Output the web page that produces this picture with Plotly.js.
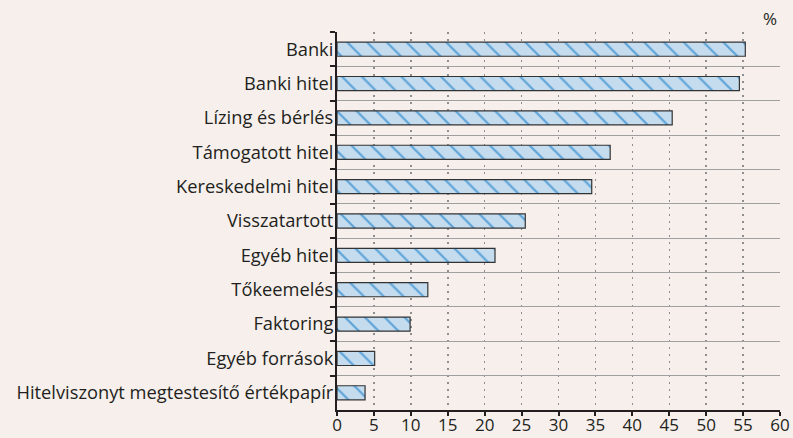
<!DOCTYPE html>
<html>
<head>
<meta charset="utf-8">
<script src="https://cdn.plot.ly/plotly-3.0.1.min.js"></script>
<style>html,body{margin:0;padding:0;background:#f6efec;}</style>
</head>
<body>
<div id="chart" style="width:793px;height:438px;"></div>
<script>
const categories = ["Banki","Banki hitel","Lízing és bérlés","Támogatott hitel","Kereskedelmi hitel","Visszatartott","Egyéb hitel","Tőkeemelés","Faktoring","Egyéb források","Hitelviszonyt megtestesítő értékpapír"];
const values = [55.3, 54.5, 45.4, 37.0, 34.5, 25.5, 21.4, 12.3, 9.9, 5.1, 3.8];
const xTicks = [0,5,10,15,20,25,30,35,40,45,50,55,60];
const unitLabel = "%";

const font = "'Open Sans', 'Noto Sans', sans-serif";
const trace = {
  type: "bar",
  orientation: "h",
  x: values,
  y: categories,
  width: 0.41,
  marker: {
    color: "#c5dcef",
    line: {color: "#333333", width: 1.2},
    pattern: {shape: "\\", fgcolor: "#5ea4d8", bgcolor: "#c5dcef", size: 14, solidity: 0.16}
  },
  hoverinfo: "x+y"
};
const layout = {
  width: 793, height: 438,
  margin: {l: 337, r: 13, t: 32, b: 28},
  paper_bgcolor: "#f6efec",
  plot_bgcolor: "#f6efec",
  showlegend: false,
  font: {family: font, color: "#231f20", size: 16},
  xaxis: {
    range: [0, 60],
    tickvals: xTicks,
    ticktext: xTicks.map(String),
    showgrid: true,
    gridcolor: "#8e8e8e",
    griddash: "2px,5px",
    gridwidth: 1.5,
    showline: true,
    linecolor: "#231f20",
    linewidth: 2,
    ticks: "outside",
    ticklen: 4,
    tickwidth: 2,
    tickcolor: "#231f20",
    ticklabelstandoff: -5,
    tickfont: {family: font, size: 17, color: "#231f20"},
    zeroline: false,
    fixedrange: true
  },
  yaxis: {
    type: "category",
    autorange: "reversed",
    tickson: "boundaries",
    showgrid: true,
    gridcolor: "#a0a0a0",
    gridwidth: 1,
    showline: true,
    linecolor: "#231f20",
    linewidth: 2,
    ticks: "outside",
    ticklen: 5,
    tickwidth: 2,
    tickcolor: "#231f20",
    ticklabelstandoff: -2,
    tickfont: {family: font, size: 18.3, color: "#231f20"},
    fixedrange: true
  },
  annotations: [{
    text: unitLabel,
    xref: "paper", yref: "paper",
    x: 0.977, y: 1.0,
    xanchor: "center", yanchor: "bottom",
    yshift: 0,
    showarrow: false,
    font: {family: font, size: 17, color: "#231f20"}
  }]
};
Plotly.newPlot("chart", [trace], layout, {displayModeBar: false, staticPlot: true});
</script>
</body>
</html>
